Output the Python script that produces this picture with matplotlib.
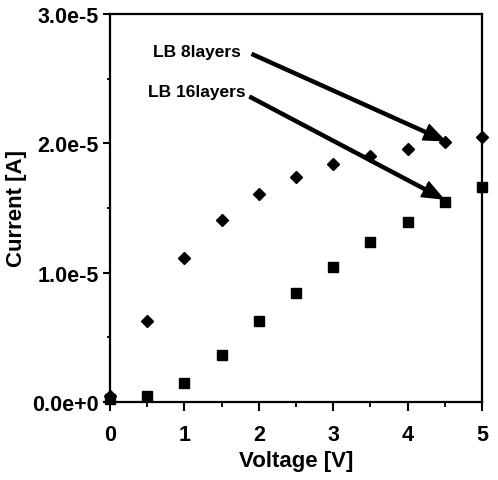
import matplotlib
matplotlib.use('Agg')
import matplotlib.pyplot as plt
from matplotlib.ticker import MultipleLocator

# datos
voltaje = [0, 0.5, 1, 1.5, 2, 2.5, 3, 3.5, 4, 4.5, 5]
corriente_8 = [0.05e-5, 0.63e-5, 1.11e-5, 1.41e-5, 1.61e-5, 1.74e-5, 1.84e-5, 1.90e-5, 1.96e-5, 2.01e-5, 2.05e-5]
corriente_16 = [0.02e-5, 0.05e-5, 0.15e-5, 0.36e-5, 0.63e-5, 0.84e-5, 1.04e-5, 1.24e-5, 1.39e-5, 1.55e-5, 1.66e-5]

xticks = [0, 1, 2, 3, 4, 5]
yticks = [0, 1e-5, 2e-5, 3e-5]
ytick_labels = ['0.0e+0', '1.0e-5', '2.0e-5', '3.0e-5']

plt.rcParams['font.family'] = ['Liberation Sans', 'DejaVu Sans']
plt.rcParams['font.weight'] = 'bold'

fig = plt.figure(figsize=(4.98, 4.81), dpi=100)
ax = fig.add_axes([0.2209, 0.1622, 0.7470, 0.8066])

ax.plot(voltaje, corriente_8, linestyle='none', marker='D', markersize=6, color='k', clip_on=False, zorder=3)
ax.plot(voltaje, corriente_16, linestyle='none', marker='s', markersize=6.5, color='k', clip_on=False, zorder=3)

ax.set_xlim(0, 5)
ax.set_ylim(0, 3e-5)
ax.set_xticks(xticks)
ax.set_yticks(yticks)
ax.set_yticklabels(ytick_labels)
ax.xaxis.set_minor_locator(MultipleLocator(0.5))
ax.yaxis.set_minor_locator(MultipleLocator(0.5e-5))

for s in ax.spines.values():
    s.set_linewidth(1.6)

ax.tick_params(axis='x', which='major', direction='out', length=6.5, width=1.5, pad=9, labelsize=15.5)
ax.tick_params(axis='x', which='minor', direction='out', length=3.5, width=1.3)
ax.tick_params(axis='y', which='major', direction='out', length=5, width=1.5, pad=3, labelsize=15.5)
ax.tick_params(axis='y', which='minor', direction='out', length=2.5, width=1.3)
for lbl in ax.get_xticklabels() + ax.get_yticklabels():
    lbl.set_fontweight('bold')

ax.set_xlabel('Voltage [V]', fontsize=16, fontweight='bold', labelpad=4)
ax.set_ylabel('Current [A]', fontsize=16, fontweight='bold', labelpad=4)

# flechas con etiquetas
ax.text(1.17, 2.71e-5, 'LB 8layers', fontsize=12.5, fontweight='bold', ha='center', va='center')
ax.text(1.16, 2.40e-5, 'LB 16layers', fontsize=12.5, fontweight='bold', ha='center', va='center')
flecha = dict(width=2.2, headwidth=12, headlength=15, facecolor='k', edgecolor='k', shrink=0)
ax.annotate('', xy=(4.50, 2.02e-5), xytext=(1.91, 2.69e-5), arrowprops=flecha)
ax.annotate('', xy=(4.48, 1.57e-5), xytext=(1.88, 2.36e-5), arrowprops=flecha)

plt.savefig('out.png', dpi=100)
